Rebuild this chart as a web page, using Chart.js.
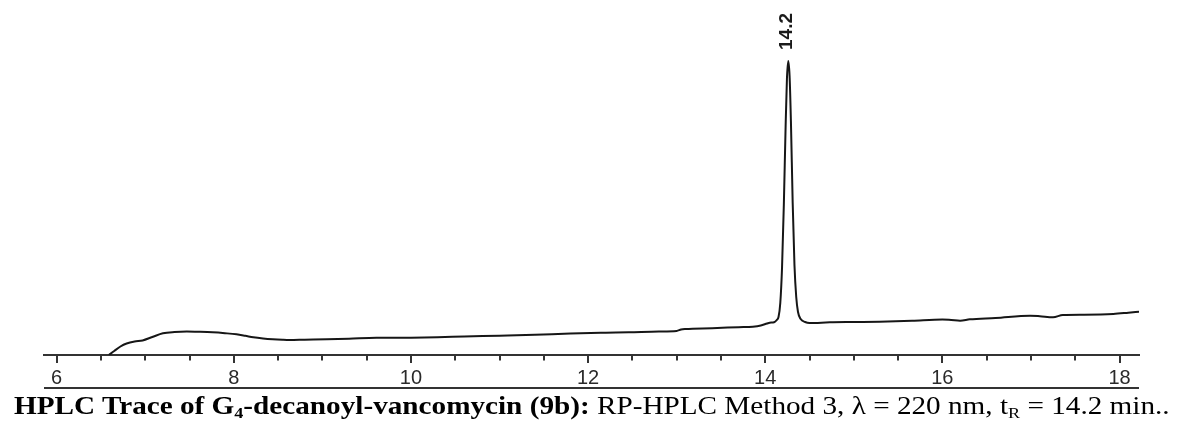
<!DOCTYPE html>
<html>
<head>
<meta charset="utf-8">
<title>HPLC Trace</title>
<script src="https://cdn.jsdelivr.net/npm/chart.js@4.4.1/dist/chart.umd.min.js"></script>
<style>
    body { margin: 0; background: #fff; }
    #wrap { position: relative; width: 1177px; height: 424px; overflow: hidden; }
    #caption {
        position: absolute; left: 14px; top: 393px;
        font-family: "Liberation Serif", "Times New Roman", serif;
        font-size: 25px; line-height: 25px; color: #000; white-space: nowrap;
        transform: scaleX(1.168); transform-origin: 0 0;
    }
    #caption sub { font-size: 0.62em; line-height: 0; vertical-align: -0.28em; }
</style>
</head>
<body>
<div id="wrap">
    <canvas id="myChart" width="1177" height="424"></canvas>
    <div id="caption"><b>HPLC Trace of G<sub>4</sub>-decanoyl-vancomycin (9b):</b> RP-HPLC Method 3, &lambda; = 220 nm, t<sub>R</sub> = 14.2 min..</div>
</div>
<script>
// retention time (min) and detector signal
const retentionTimes = [
    6.59, 6.65, 6.72, 6.79, 6.88, 6.97, 7.08, 7.20, 7.33, 7.47,
    7.62, 7.76, 7.90, 8.03, 8.13, 8.22, 8.33, 8.44, 8.55, 8.63,
    8.80, 9.05, 9.30, 9.61, 9.80, 10.0, 10.3, 10.6, 11.0, 11.4,
    11.8, 12.2, 12.46, 12.8, 13.0, 13.05, 13.1, 13.4, 13.7, 13.86,
    13.95, 14.02, 14.05, 14.10, 14.13, 14.15, 14.17, 14.19, 14.21, 14.23,
    14.245, 14.26, 14.275, 14.29, 14.31, 14.33, 14.35, 14.37, 14.40, 14.45,
    14.50, 14.73, 15.0, 15.29, 15.66, 16.0, 16.1, 16.2, 16.31, 16.6,
    16.99, 17.1, 17.25, 17.36, 17.6, 17.93, 18.1, 18.22
];
const absorbance = [
    0, 4, 8.5, 11.5, 13.5, 14.5, 18, 21.7, 23, 23.5,
    23.2, 22.7, 21.8, 20.7, 19.2, 17.7, 16.5, 15.7, 15.2, 15,
    15.3, 15.7, 16.3, 17.3, 17.2, 17.3, 17.8, 18.5, 19.3, 20.2,
    21.5, 22.3, 22.7, 23.5, 24, 25.5, 26, 26.8, 27.8, 28.3,
    29.5, 31.5, 32.3, 32.8, 35, 38, 52, 88, 150, 228,
    276, 294, 279, 234, 152, 90, 58, 43, 36, 33,
    32, 32.7, 33, 33.3, 34.3, 35.5, 35, 34.3, 35.7, 37,
    39.3, 38.8, 37.7, 40, 40.3, 41, 42.3, 43.3
];
const tickValues = [6, 6.5, 7, 7.5, 8, 8.5, 9, 9.5, 10, 10.5, 11, 11.5, 12, 12.5, 13, 13.5, 14, 14.5, 15, 15.5, 16, 16.5, 17, 17.5, 18];
const tickLabels = ['6', '8', '10', '12', '14', '16', '18'];
const peakLabel = '14.2';

const points = retentionTimes.map((t, i) => ({ x: t, y: absorbance[i] }));

const axisExtras = {
    id: 'axisExtras',
    afterDraw(chart) {
        const ctx = chart.ctx;
        const xs = chart.scales.x;
        const ys = chart.scales.y;
        const base = chart.chartArea.bottom;
        ctx.save();
        ctx.strokeStyle = '#333';
        ctx.lineWidth = 2;
        // tick marks, longer on labelled ones
        xs.ticks.forEach((tk) => {
            const px = Math.round(xs.getPixelForValue(tk.value));
            const len = tickLabels.includes(String(tk.value)) ? 8 : 5.5;
            ctx.beginPath();
            ctx.moveTo(px, base);
            ctx.lineTo(px, base + len);
            ctx.stroke();
        });
        // rule under the tick labels
        ctx.beginPath();
        ctx.moveTo(xs.left, xs.bottom);
        ctx.lineTo(xs.right, xs.bottom);
        ctx.stroke();
        // peak label
        let top = 0;
        absorbance.forEach((v, i) => { if (v > absorbance[top]) top = i; });
        const px = xs.getPixelForValue(retentionTimes[top]);
        const py = ys.getPixelForValue(absorbance[top]);
        ctx.translate(px - 1, py - 11);
        ctx.rotate(-Math.PI / 2);
        ctx.fillStyle = '#1a1a1a';
        ctx.font = 'bold 19px "Liberation Sans", Arial, sans-serif';
        ctx.textAlign = 'left';
        ctx.textBaseline = 'middle';
        ctx.fillText(peakLabel, 0, 0);
        ctx.restore();
    }
};

const conf = {
    type: 'line',
    data: {
        datasets: [{
            data: points,
            borderColor: '#161616',
            borderWidth: 2,
            pointRadius: 0,
            fill: false,
            cubicInterpolationMode: 'monotone'
        }]
    },
    options: {
        responsive: false,
        animation: false,
        devicePixelRatio: 1,
        layout: { padding: { left: 44, right: 38, top: 10, bottom: 36 } },
        plugins: { legend: { display: false }, tooltip: { enabled: false } },
        scales: {
            x: {
                type: 'linear',
                min: 5.857,
                max: 18.22,
                afterBuildTicks: (scale) => {
                    scale.ticks = tickValues.map((v) => ({ value: v }));
                },
                afterFit: (scale) => { scale.height = 33; },
                grid: { display: false, drawTicks: false },
                border: { display: true, color: '#333', width: 2 },
                ticks: {
                    autoSkip: false,
                    maxRotation: 0,
                    padding: 11,
                    color: '#2a2a2a',
                    font: { family: '"Liberation Sans", Arial, sans-serif', size: 20 },
                    callback: (v) => tickLabels.includes(String(v)) ? String(v) : ''
                }
            },
            y: { display: false, min: 0, max: 345 }
        }
    },
    plugins: [axisExtras]
};

const myChart = new Chart(document.getElementById('myChart'), conf);
</script>
</body>
</html>
